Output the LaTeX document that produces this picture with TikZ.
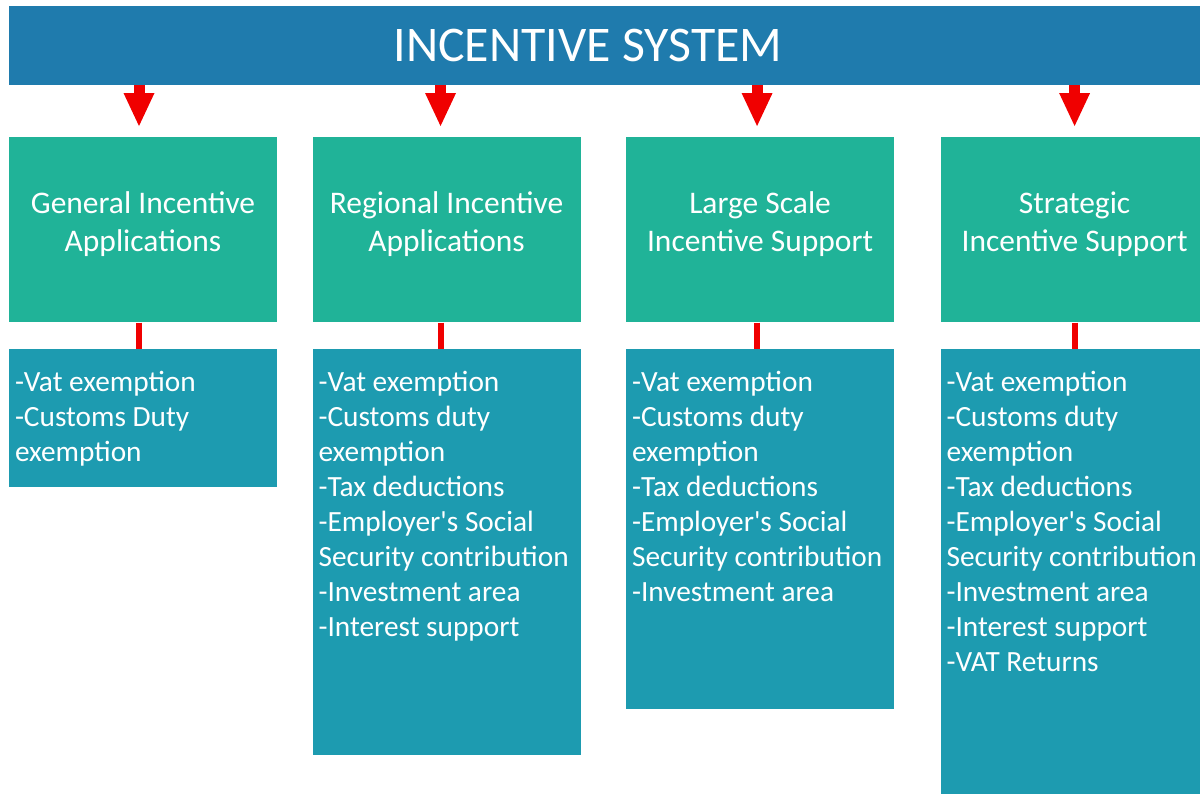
\documentclass[tikz,border=0pt]{standalone}
\usepackage{fontspec}
\setmainfont{Carlito}
\usetikzlibrary{arrows.meta, positioning}
\definecolor{headblue}{HTML}{1F7BAD}
\definecolor{tealgreen}{HTML}{20B398}
\definecolor{boxblue}{HTML}{1D9BB0}
\definecolor{arrowred}{HTML}{F00000}

\begin{document}
\begin{tikzpicture}[x=0.75pt, y=-0.75pt, node distance=19.5pt,
    headbar/.style={fill=headblue, minimum width=893.25pt, minimum height=59.25pt, inner sep=0pt},
    topbox/.style={fill=tealgreen, text=white, minimum width=201pt, minimum height=138.75pt, anchor=north, align=center, inner sep=0pt, text depth=12pt, font=\fontsize{23.6}{28.5}\selectfont},
    listbox/.style={fill=boxblue, minimum width=201pt, inner sep=0pt},
    listtext/.style={anchor=north west, text=white, align=left, inner xsep=4.5pt, inner ysep=16.5pt, font=\fontsize{22}{26.3}\selectfont},
    downarrow/.style={draw=arrowred, line width=8.25pt, -{Triangle[width=23.25pt, length=24.75pt, line width=0pt, fill=arrowred]}, shorten >=8.25pt},
    link/.style={draw=arrowred, line width=4.5pt}]
    \clip (0,0) rectangle (1200,793);
    \useasboundingbox (0,0) rectangle (1200,793);

    % header
    \node[headbar] (bar) at (604.5,45.5) {};
    \node[text=white, font=\fontsize{37.4}{40}\selectfont, inner sep=0pt] (title) at (588,45) {INCENTIVE SYSTEM};

    % incentive types
    \node[topbox] (grn1) at (143,137) {General Incentive\\Applications};
    \node[topbox, right=26.25pt of grn1] (grn2) {Regional Incentive\\Applications};
    \node[topbox, right=33.75pt of grn2] (grn3) {Large Scale\\Incentive Support};
    \node[topbox, right=34.5pt of grn3] (grn4) {Strategic\\Incentive Support};

    % support lists
    \node[listbox, below=of grn1, minimum height=103.5pt] (blu1) {};
    \node[listbox, below=of grn2, minimum height=304.5pt] (blu2) {};
    \node[listbox, below=of grn3, minimum height=270pt] (blu3) {};
    \node[listbox, below=of grn4, minimum height=345pt] (blu4) {};

    \node[listtext] (txt1) at (blu1.north west) {-Vat exemption\\-Customs Duty\\exemption};
    \node[listtext] (txt2) at (blu2.north west) {-Vat exemption\\-Customs duty\\exemption\\-Tax deductions\\-Employer\textquotesingle s Social\\Security contribution\\-Investment area\\-Interest support};
    \node[listtext] (txt3) at (blu3.north west) {-Vat exemption\\-Customs duty\\exemption\\-Tax deductions\\-Employer\textquotesingle s Social\\Security contribution\\-Investment area};
    \node[listtext] (txt4) at (blu4.north west) {-Vat exemption\\-Customs duty\\exemption\\-Tax deductions\\-Employer\textquotesingle s Social\\Security contribution\\-Investment area\\-Interest support\\-VAT Returns};

    % arrows
    \draw[downarrow] ([xshift=-3pt]grn1.north |- bar.south) -- ([xshift=-3pt]grn1.north);
    \draw[downarrow] ([xshift=-4.5pt]grn2.north |- bar.south) -- ([xshift=-4.5pt]grn2.north);
    \draw[downarrow] ([xshift=-2.25pt]grn3.north |- bar.south) -- ([xshift=-2.25pt]grn3.north);
    \draw[downarrow] (grn4.north |- bar.south) -- (grn4.north);

    \draw[link] ([xshift=-3pt]grn1.south) -- ([xshift=-3pt]blu1.north);
    \draw[link] ([xshift=-4.5pt]grn2.south) -- ([xshift=-4.5pt]blu2.north);
    \draw[link] ([xshift=-2.25pt]grn3.south) -- ([xshift=-2.25pt]blu3.north);
    \draw[link] (grn4) -- (blu4);
\end{tikzpicture}
\end{document}
